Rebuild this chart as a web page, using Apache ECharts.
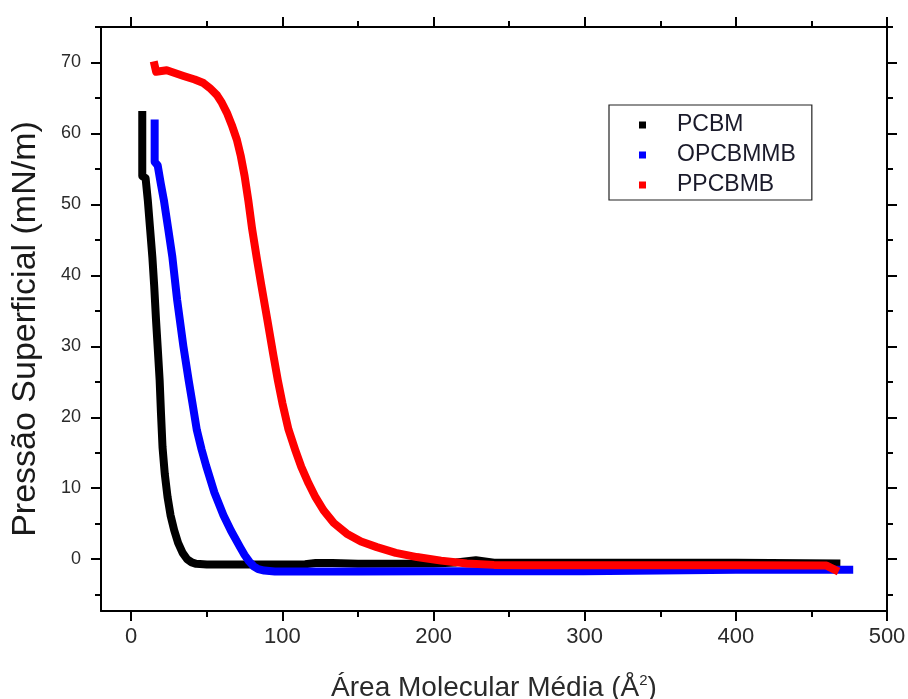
<!DOCTYPE html>
<html>
<head>
<meta charset="utf-8">
<script src="https://cdn.jsdelivr.net/npm/echarts@6/dist/echarts.min.js"></script>
<style>
html,body{margin:0;padding:0;background:#fff;}
#chart{width:908px;height:699px;}
</style>
</head>
<body>
<div id="chart"></div>
<script>
// ---- data ----
var seriesNames = ['PCBM', 'OPCBMMB', 'PPCBMB'];
var seriesColors = ['#000000', '#0000ff', '#ff0000'];

var pcbmArea = [7.3, 7.3, 9.5, 11, 12.5, 14, 15.2, 16.4, 17.6, 18.8, 19.7, 20.7, 22.2, 24, 26, 28.4, 31, 34, 37, 40, 43, 50, 90, 115, 122, 133, 150, 200, 215, 228, 240, 300, 400, 466.5];
var pcbmPressure = [62.6, 54, 53.7, 50.5, 46.5, 42.5, 38.5, 33.7, 29.5, 25.2, 20.5, 15.8, 12, 8.8, 6.2, 4.1, 2.3, 0.9, 0, -0.45, -0.65, -0.75, -0.75, -0.7, -0.55, -0.55, -0.65, -0.6, -0.45, -0.15, -0.5, -0.5, -0.5, -0.6];

var opcArea = [15.5, 15.5, 17.5, 19.5, 21.6, 24.5, 27.2, 30.4, 34.5, 38, 40.5, 43.4, 46.5, 49.5, 55, 61, 66, 72, 75, 78, 81, 84, 88, 95, 100, 150, 200, 299, 300, 400, 475];
var opcPressure = [61.4, 56, 55.5, 53, 50.6, 46.5, 42.6, 36.5, 30, 25.2, 22, 18.2, 15.5, 13.2, 9.4, 6.2, 4, 1.7, 0.6, -0.3, -1.0, -1.4, -1.6, -1.72, -1.75, -1.75, -1.7, -1.7, -1.5, -1.5, -1.5];

var ppcArea = [15.5, 16.5, 23.5, 34.6, 42, 47.8, 52, 56.7, 60, 63.3, 66.5, 69.9, 72.5, 75, 77.5, 80, 83, 86, 90, 94, 97, 100, 104, 108.5, 112.5, 117.3, 122, 127.2, 134, 142.6, 152, 162.5, 175, 189, 205, 222, 240, 260, 300, 400, 460, 465.6];
var ppcPressure = [69.6, 68.7, 68.9, 68.1, 67.6, 67.1, 66.4, 65.4, 64.3, 62.9, 61.2, 59.1, 56.8, 54, 50.5, 46.5, 42.5, 38.7, 33.8, 28.8, 25.2, 22.0, 18.3, 15.4, 13, 10.7, 8.7, 6.9, 5.1, 3.6, 2.5, 1.7, 0.9, 0.3, -0.2, -0.6, -0.8, -0.85, -0.85, -0.85, -0.9, -1.5];

var xMajorTicks = [0, 100, 200, 300, 400, 500];
var xMinorTicks = [50, 150, 250, 350, 450];
var yMajorTicks = [0, 10, 20, 30, 40, 50, 60, 70];
var yMinorTicks = [-5, 5, 15, 25, 35, 45, 55, 65, 75];

var xTitle = 'Área Molecular Média (Å{sup|2})';
var yTitle = 'Pressão Superficial (mN/m)';

// ---- build ----
function zip(xs, ys) { return xs.map(function (x, i) { return [x, ys[i]]; }); }
var X_MIN = -20, X_MAX = 500, Y_MIN = -7.3, Y_MAX = 75;
var FONT = '"Liberation Sans", Arial, sans-serif';
var lineStyleAxis = { color: '#000', width: 2 };

function xAxisDef(position, ticks, len, showLine, showLabels, extra) {
  var a = {
    type: 'value', position: position, min: X_MIN, max: X_MAX,
    splitLine: { show: false },
    axisLine: { show: showLine, onZero: false, lineStyle: lineStyleAxis },
    axisTick: { show: true, customValues: ticks, length: len, inside: false, lineStyle: { color: '#000', width: 2 } },
    axisLabel: { show: showLabels, customValues: ticks, margin: 15,
      fontFamily: FONT, fontSize: 22, color: '#2a2a2a' }
  };
  return Object.assign(a, extra || {});
}
function yAxisDef(position, ticks, len, showLine, showLabels, extra) {
  var a = {
    type: 'value', position: position, min: Y_MIN, max: Y_MAX,
    splitLine: { show: false },
    axisLine: { show: showLine, onZero: false, lineStyle: lineStyleAxis },
    axisTick: { show: true, customValues: ticks, length: len, inside: false, lineStyle: { color: '#000', width: 2 } },
    axisLabel: { show: showLabels, customValues: ticks, margin: 20,
      fontFamily: FONT, fontSize: 18, color: '#2a2a2a' }
  };
  return Object.assign(a, extra || {});
}

var chart = echarts.init(document.getElementById('chart'), null, { renderer: 'canvas' });
var option = {
  backgroundColor: '#fff',
  animation: false,
  grid: { left: 101, right: 21, top: 27, bottom: 88, containLabel: false, outerBoundsMode: 'none' },
  legend: {
    orient: 'vertical', left: 609, top: 105,
    data: seriesNames,
    backgroundColor: '#fff',
    borderColor: '#222', borderWidth: 1.2,
    padding: [8, 16, 3, 30],
    itemGap: 6,
    itemWidth: 7, itemHeight: 7, icon: 'rect',
    textStyle: { fontFamily: FONT, fontSize: 23, color: '#1a1a2a', padding: [0, 0, 0, 26], lineHeight: 24 }
  },
  xAxis: [
    xAxisDef('bottom', xMajorTicks, 10, true, true, {
      name: xTitle, nameLocation: 'middle', nameGap: 62,
      nameTextStyle: { fontFamily: FONT, fontSize: 28, color: '#2a2a2a',
        rich: { sup: { fontSize: 15, verticalAlign: 'top', padding: [0, 0, 16, 0], fontFamily: FONT, color: '#2a2a2a' } } }
    }),
    xAxisDef('bottom', xMinorTicks, 6, false, false),
    xAxisDef('top', xMajorTicks, 10, true, false),
    xAxisDef('top', xMinorTicks, 6, false, false)
  ],
  yAxis: [
    yAxisDef('left', yMajorTicks, 10, true, true, {
      name: yTitle, nameLocation: 'middle', nameGap: 58, nameRotate: 90,
      nameTextStyle: { fontFamily: FONT, fontSize: 34, color: '#1a1a1a', padding: [0, 20, 0, 0] }
    }),
    yAxisDef('left', yMinorTicks, 6, false, false),
    yAxisDef('right', yMajorTicks, 10, true, false),
    yAxisDef('right', yMinorTicks, 6, false, false)
  ],
  series: [
    { name: seriesNames[0], data: zip(pcbmArea, pcbmPressure) },
    { name: seriesNames[1], data: zip(opcArea, opcPressure) },
    { name: seriesNames[2], data: zip(ppcArea, ppcPressure) }
  ].map(function (s, i) {
    return {
      name: s.name, type: 'line', data: s.data, xAxisIndex: 0, yAxisIndex: 0,
      showSymbol: false, symbol: 'rect', symbolSize: 7, smooth: false,
      itemStyle: { color: seriesColors[i] },
      lineStyle: { color: seriesColors[i], width: 8, cap: 'square', join: 'round' },
      z: 2 + i
    };
  })
};
chart.setOption(option);
</script>
</body>
</html>
